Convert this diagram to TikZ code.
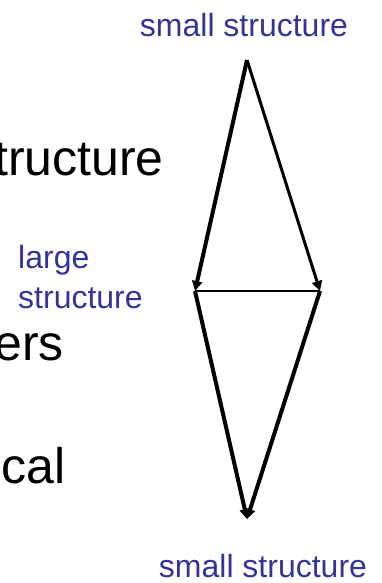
\documentclass[tikz,border=0pt]{standalone}
\usepackage{fontspec}
\setmainfont{Liberation Sans}
\usetikzlibrary{arrows.meta}
\definecolor{labelblue}{RGB}{51,51,153}

\tikzset{
  bluelabel/.style={text=labelblue, font=\fontsize{32}{40}\selectfont, inner sep=0pt},
  slidetext/.style={text=black, font=\fontsize{50}{60}\selectfont, inner sep=0pt},
  scalearrow/.style={line width=#1, -{Triangle[length=10pt,width=10pt]}},
}

\begin{document}
\begin{tikzpicture}[x=1pt,y=-1pt]
\useasboundingbox (0,0) rectangle (381,583);

% Corners of the diagram
\coordinate (apex) at (247,60);
\coordinate (leftcorner) at (195,291);
\coordinate (rightcorner) at (320,291);
\coordinate (bottom) at (247,519);

% Slide text, cut at the left edge
\node[slidetext, anchor=base east] (txtstructure) at (164,175) {tructure};
\node[slidetext, anchor=base east] (txters) at (64,360) {ers};
\node[slidetext, anchor=base east] (txtcal) at (66,483) {cal};

% Labels
\node[bluelabel, anchor=base] (smalltop) at (244,37) {small structure};
\node[bluelabel, anchor=north west, align=left] (largemid) at (18,245) {large\\structure};
\node[bluelabel, anchor=base] (smallbottom) at (263,577) {small structure};

% Upper triangle
\draw[scalearrow=4pt] (apex) -- (leftcorner);
\draw[scalearrow=3pt] (apex) -- (rightcorner);
\draw[line width=1.5pt] (leftcorner) -- (rightcorner);

% Lower triangle
\draw[scalearrow=4pt] (leftcorner) -- (bottom);
\draw[scalearrow=4pt] (rightcorner) -- (bottom);

\end{tikzpicture}
\end{document}
